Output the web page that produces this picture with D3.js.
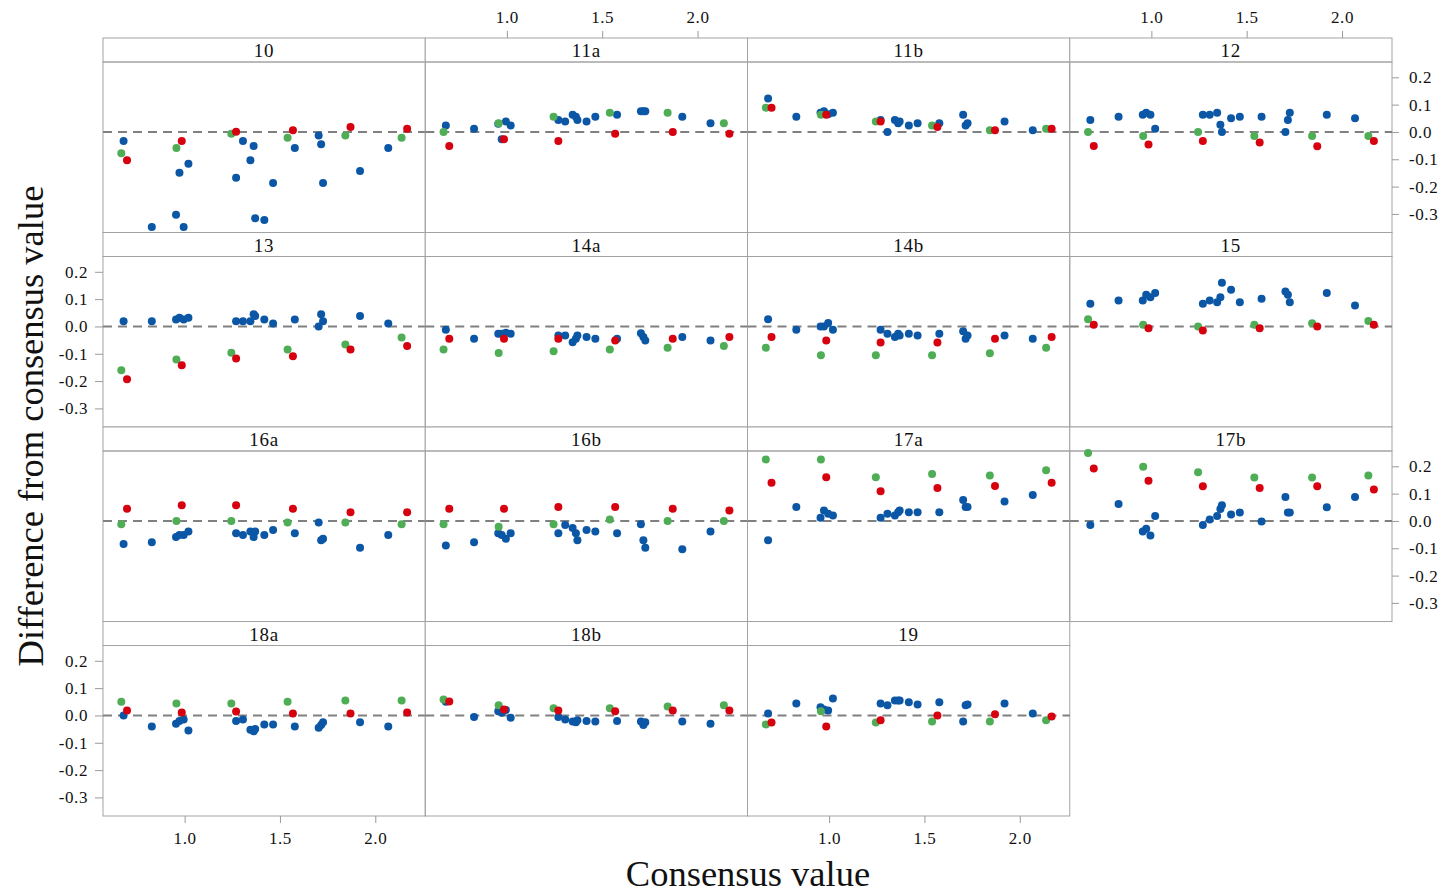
<!DOCTYPE html>
<html>
<head>
<meta charset="utf-8">
<script src="https://cdn.jsdelivr.net/npm/d3@7"></script>
<style>
  body { margin: 0; background: #fff; }
  svg text { font-family: "Liberation Serif", "DejaVu Serif", serif; fill: #111; }
</style>
</head>
<body>
<svg id="chart" width="1442" height="894"></svg>
<script>
// panels in lattice order (row by row)
const panels = ['10', '11a', '11b', '12', '13', '14a', '14b', '15', '16a', '16b', '17a', '17b', '18a', '18b', '19'];

// consensus values of the samples
const blueX = [0.68, 0.828, 0.955, 0.973, 0.995, 1.02, 1.27, 1.306, 1.345, 1.362, 1.37, 1.418, 1.464, 1.578, 1.703, 1.716, 1.726, 1.92, 2.068];
const greenX = [0.668, 0.957, 1.245, 1.54, 1.843, 2.138];
const redX = [0.698, 0.985, 1.27, 1.568, 1.87, 2.167];

// differences from consensus value, per panel
const blueDiff = {
  '10':  [-0.033, -0.348, -0.303, -0.149, -0.348, -0.116, -0.168, -0.033, -0.104, -0.051, -0.316, -0.322, -0.187, -0.059, -0.013, -0.045, -0.187, -0.143, -0.059],
  '11a': [0.024, 0.012, 0.03, -0.027, 0.038, 0.024, 0.044, 0.038, 0.063, 0.056, 0.044, 0.038, 0.056, 0.063, 0.076, 0.076, 0.076, 0.056, 0.032],
  '11b': [0.122, 0.056, 0.07, 0.076, 0.065, 0.07, 0.044, 0.0, 0.044, 0.032, 0.038, 0.024, 0.032, 0.032, 0.063, 0.024, 0.032, 0.038, 0.006],
  '12':  [0.044, 0.056, 0.063, 0.07, 0.063, 0.012, 0.063, 0.063, 0.07, 0.026, 0.0, 0.05, 0.056, 0.056, 0.0, 0.044, 0.07, 0.063, 0.05],
  '13':  [0.019, 0.019, 0.025, 0.032, 0.025, 0.032, 0.019, 0.019, 0.019, 0.045, 0.038, 0.025, 0.011, 0.025, 0.0, 0.045, 0.019, 0.038, 0.011],
  '14a': [-0.012, -0.045, -0.027, -0.027, -0.023, -0.027, -0.033, -0.033, -0.058, -0.045, -0.033, -0.039, -0.045, -0.045, -0.025, -0.039, -0.051, -0.039, -0.051],
  '14b': [0.026, -0.012, 0.0, 0.0, 0.013, -0.012, -0.012, -0.027, -0.039, -0.027, -0.033, -0.027, -0.033, -0.027, -0.018, -0.045, -0.033, -0.033, -0.045],
  '15':  [0.083, 0.095, 0.095, 0.116, 0.107, 0.122, 0.083, 0.095, 0.089, 0.107, 0.16, 0.134, 0.089, 0.101, 0.128, 0.116, 0.089, 0.122, 0.077],
  '16a': [-0.084, -0.078, -0.059, -0.051, -0.051, -0.039, -0.045, -0.051, -0.039, -0.059, -0.039, -0.051, -0.033, -0.045, -0.006, -0.071, -0.065, -0.098, -0.051],
  '16b': [-0.09, -0.078, -0.045, -0.051, -0.065, -0.045, -0.045, -0.015, -0.026, -0.045, -0.071, -0.033, -0.039, -0.045, -0.012, -0.071, -0.098, -0.104, -0.039],
  '17a': [-0.071, 0.051, 0.012, 0.038, 0.026, 0.02, 0.012, 0.026, 0.02, 0.032, 0.038, 0.032, 0.032, 0.032, 0.077, 0.051, 0.051, 0.071, 0.095],
  '17b': [-0.015, 0.062, -0.039, -0.029, -0.053, 0.018, -0.015, 0.005, 0.018, 0.044, 0.057, 0.024, 0.031, -0.002, 0.088, 0.031, 0.031, 0.05, 0.088],
  '18a': [0.0, -0.04, -0.03, -0.02, -0.015, -0.055, -0.02, -0.015, -0.052, -0.058, -0.05, -0.033, -0.033, -0.04, -0.045, -0.035, -0.025, -0.025, -0.04],
  '18b': [0.05, -0.006, 0.015, 0.01, 0.02, -0.008, -0.006, -0.015, -0.022, -0.025, -0.018, -0.02, -0.022, -0.02, -0.022, -0.035, -0.025, -0.022, -0.03],
  '19':  [0.007, 0.044, 0.03, 0.022, 0.018, 0.062, 0.044, 0.037, 0.055, 0.055, 0.055, 0.048, 0.04, 0.048, -0.022, 0.037, 0.04, 0.044, 0.007]
};
const greenDiff = {
  '10':  [-0.078, -0.059, -0.007, -0.021, -0.013, -0.021],
  '11a': [0.0, 0.032, 0.056, 0.07, 0.07, 0.032],
  '11b': [0.089, 0.063, 0.038, 0.024, 0.006, 0.012],
  '12':  [0.0, -0.015, 0.0, -0.015, -0.015, -0.015],
  '13':  [-0.16, -0.121, -0.096, -0.084, -0.066, -0.04],
  '14a': [-0.084, -0.097, -0.091, -0.084, -0.078, -0.072],
  '14b': [-0.078, -0.105, -0.105, -0.105, -0.098, -0.078],
  '15':  [0.026, 0.006, 0.0, 0.006, 0.012, 0.02],
  '16a': [-0.012, 0.0, 0.0, -0.006, -0.006, -0.012],
  '16b': [-0.012, -0.021, -0.012, 0.005, 0.0, 0.0],
  '17a': [0.225, 0.225, 0.16, 0.172, 0.166, 0.186],
  '17b': [0.249, 0.198, 0.178, 0.159, 0.159, 0.166],
  '18a': [0.05, 0.044, 0.044, 0.05, 0.055, 0.055],
  '18b': [0.058, 0.037, 0.026, 0.026, 0.033, 0.037],
  '19':  [-0.033, 0.015, -0.026, -0.022, -0.022, -0.018]
};
const redDiff = {
  '10':  [-0.104, -0.033, 0.001, 0.006, 0.018, 0.012],
  '11a': [-0.051, -0.027, -0.033, -0.007, 0.0, -0.007],
  '11b': [0.089, 0.063, 0.038, 0.018, 0.006, 0.012],
  '12':  [-0.051, -0.046, -0.033, -0.039, -0.052, -0.033],
  '13':  [-0.193, -0.142, -0.117, -0.109, -0.084, -0.072],
  '14a': [-0.045, -0.045, -0.045, -0.051, -0.045, -0.039],
  '14b': [-0.039, -0.051, -0.059, -0.059, -0.045, -0.039],
  '15':  [0.006, -0.007, -0.015, -0.007, 0.0, 0.006],
  '16a': [0.045, 0.057, 0.057, 0.045, 0.032, 0.032],
  '16b': [0.045, 0.045, 0.051, 0.051, 0.045, 0.038],
  '17a': [0.14, 0.16, 0.109, 0.121, 0.128, 0.14],
  '17b': [0.192, 0.147, 0.127, 0.121, 0.127, 0.115],
  '18a': [0.018, 0.011, 0.014, 0.007, 0.007, 0.011],
  '18b': [0.051, 0.022, 0.018, 0.015, 0.018, 0.018],
  '19':  [-0.026, -0.04, -0.018, 0.0, 0.004, -0.004]
};

const xTicks = [1.0, 1.5, 2.0];
const yTicks = [-0.3, -0.2, -0.1, 0.0, 0.1, 0.2];

const svg = d3.select('#chart');
const layout = { left: 103, top: 38, colW: 322.25, rowH: 194.5, strip: 24, cols: 4 };
const frameColor = '#a3a3a3';
const colors = { blue: '#0b57a6', green: '#4fae55', red: '#d7000f' };
// plain hyphen minus like the original, not the unicode minus
const fmt = function (d) { return d3.format('.1f')(d).replace('\u2212', '-'); };

panels.forEach(function (name, i) {
  const row = Math.floor(i / layout.cols);
  const col = i % layout.cols;
  const x0 = layout.left + col * layout.colW;
  const y0 = layout.top + row * layout.rowH;
  const x1 = x0 + layout.colW;
  const y1 = y0 + layout.rowH;
  const plotTop = y0 + layout.strip;

  const x = d3.scaleLinear().domain([0.572, 2.262]).range([x0, x1]);
  const y = d3.scaleLinear().domain([-0.368, 0.256]).range([y1, plotTop]);

  const g = svg.append('g').attr('class', 'panel');

  // strip
  g.append('rect')
    .attr('x', x0).attr('y', y0)
    .attr('width', layout.colW).attr('height', layout.strip)
    .attr('fill', '#fff').attr('stroke', frameColor);
  g.append('text')
    .attr('x', (x0 + x1) / 2).attr('y', y0 + layout.strip / 2 + 7)
    .attr('text-anchor', 'middle')
    .attr('font-size', 19)
    .attr('letter-spacing', 0.8)
    .text(name);

  // plot frame
  g.append('rect')
    .attr('x', x0).attr('y', plotTop)
    .attr('width', layout.colW).attr('height', y1 - plotTop)
    .attr('fill', 'none').attr('stroke', frameColor);

  // reference line at zero
  g.append('line')
    .attr('x1', x0).attr('x2', x1)
    .attr('y1', y(0)).attr('y2', y(0))
    .attr('stroke', '#808080').attr('stroke-width', 2)
    .attr('stroke-dasharray', '9,6');

  const dots = g.append('g');
  const addDots = function (xs, ys, color) {
    dots.selectAll(null)
      .data(d3.zip(xs, ys))
      .enter().append('circle')
      .attr('cx', function (d) { return x(d[0]); })
      .attr('cy', function (d) { return y(d[1]); })
      .attr('r', 4)
      .attr('fill', color);
  };
  addDots(blueX, blueDiff[name], colors.blue);
  addDots(greenX, greenDiff[name], colors.green);
  addDots(redX, redDiff[name], colors.red);

  const styleAxis = function (sel) {
    sel.select('.domain').remove();
    sel.selectAll('.tick line').attr('stroke', '#9a9a9a');
    sel.selectAll('.tick text')
      .attr('font-size', 17)
      .attr('letter-spacing', 0.6)
      .attr('fill', '#111');
  };

  // x axes alternate bottom / top like lattice
  if (row === 3 && col % 2 === 0) {
    svg.append('g')
      .attr('transform', 'translate(0,' + y1 + ')')
      .call(d3.axisBottom(x).tickValues(xTicks).tickFormat(fmt).tickSize(7).tickPadding(9))
      .call(styleAxis);
  }
  if (row === 0 && col % 2 === 1) {
    svg.append('g')
      .attr('transform', 'translate(0,' + y0 + ')')
      .call(d3.axisTop(x).tickValues(xTicks).tickFormat(fmt).tickSize(7).tickPadding(8))
      .call(styleAxis);
  }
  // y axes alternate right / left
  if (col === 0 && row % 2 === 1) {
    svg.append('g')
      .attr('transform', 'translate(' + x0 + ',0)')
      .call(d3.axisLeft(y).tickValues(yTicks).tickFormat(fmt).tickSize(8).tickPadding(7))
      .call(styleAxis);
  }
  if (col === 3 && row % 2 === 0) {
    svg.append('g')
      .attr('transform', 'translate(' + x1 + ',0)')
      .call(d3.axisRight(y).tickValues(yTicks).tickFormat(fmt).tickSize(7).tickPadding(10))
      .call(styleAxis);
  }
});

// axis titles
svg.append('text')
  .attr('x', 748).attr('y', 886)
  .attr('text-anchor', 'middle')
  .attr('font-size', 36.5)
  .text('Consensus value');
svg.append('text')
  .attr('transform', 'translate(43,426) rotate(-90)')
  .attr('text-anchor', 'middle')
  .attr('font-size', 36.5)
  .text('Difference from consensus value');
</script>
</body>
</html>
